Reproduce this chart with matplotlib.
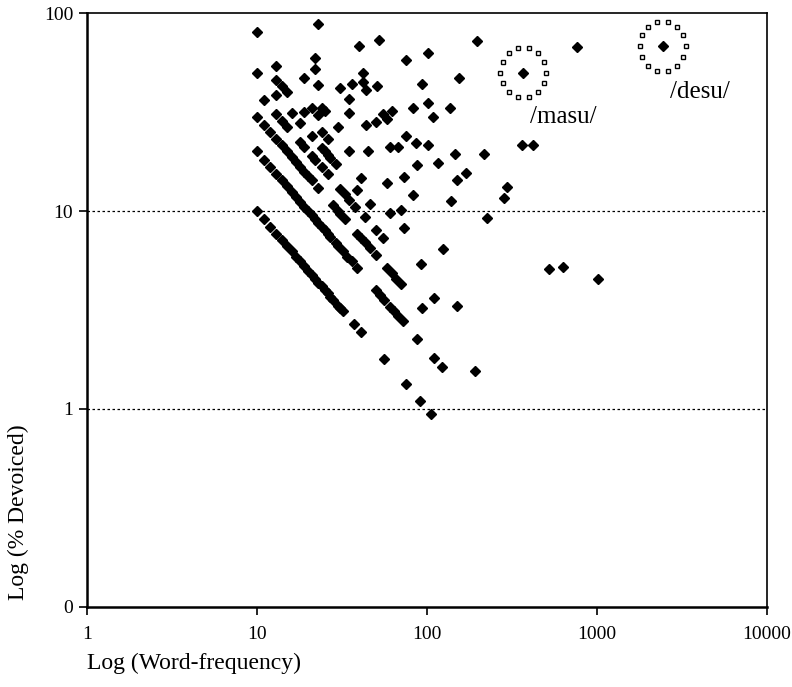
import numpy as np
import matplotlib
matplotlib.use("Agg")
import matplotlib.pyplot as plt
from matplotlib.transforms import ScaledTranslation

# word frequency (token count) and % devoiced
freq = [10, 11, 12, 13, 14, 15, 16, 17, 18, 19, 20, 21, 22, 23, 24, 25, 26, 27, 28, 30, 31, 32, 37, 41, 56, 75, 91, 106,
        10, 11, 12, 13, 14, 15, 16, 17, 18, 19, 20, 21, 22, 23, 24, 25, 26, 27, 29, 30, 32, 34, 36, 39, 50, 53, 56, 61, 64, 68, 72, 88, 110, 123,
        10, 11, 12, 13, 14, 15, 16, 17, 18, 19, 20, 21, 23, 28, 30, 31, 33, 39, 41, 43, 46, 50, 58, 62, 66, 70, 93, 193,
        11, 13, 14, 15, 18, 19, 21, 22, 24, 26, 31, 33, 35, 38, 43, 50, 55, 110,
        13, 16, 18, 21, 24, 25, 26, 27, 29, 39, 46, 92, 150,
        10, 10, 23, 40, 13, 22, 22, 19, 13, 14, 15, 23, 31, 35, 36, 19, 21, 24, 23, 25, 35, 30, 24, 26, 35, 45, 41, 61, 73, 125,
        52, 42, 42, 44, 51, 44, 50, 58,
        196, 102, 75, 155, 93, 101, 83, 108, 137, 55, 62, 75, 86, 102, 61, 68, 147, 218, 365, 419, 88, 117, 151, 169, 58, 73,
        83, 139, 298, 286, 70, 227, 520, 629, 1010, 760]
pct = [10.0, 9.09, 8.33, 7.69, 7.14, 6.67, 6.25, 5.88, 5.56, 5.26, 5.0, 4.76, 4.55, 4.35, 4.17, 4.0, 3.85, 3.70, 3.57, 3.33, 3.23, 3.13, 2.70, 2.44, 1.79, 1.33, 1.10, 0.94,
       20.0, 18.18, 16.67, 15.38, 14.29, 13.33, 12.5, 11.76, 11.11, 10.53, 10.0, 9.52, 9.09, 8.70, 8.33, 8.0, 7.69, 7.41, 6.90, 6.67, 6.25, 5.88, 5.56, 5.13, 4.0, 3.77, 3.57, 3.28, 3.13, 2.94, 2.78, 2.27, 1.82, 1.63,
       30.0, 27.27, 25.0, 23.08, 21.43, 20.0, 18.75, 17.65, 16.67, 15.79, 15.0, 14.29, 13.04, 10.71, 10.0, 9.68, 9.09, 7.69, 7.32, 6.98, 6.52, 6.0, 5.17, 4.84, 4.55, 4.29, 3.23, 1.55,
       36.36, 30.77, 28.57, 26.67, 22.22, 21.05, 19.05, 18.18, 16.67, 15.38, 12.90, 12.12, 11.43, 10.53, 9.30, 8.0, 7.27, 3.64,
       38.46, 31.25, 27.78, 23.81, 20.83, 20.0, 19.23, 18.52, 17.24, 12.82, 10.87, 5.43, 3.33,
       80, 50, 88, 68, 54, 59, 52, 47, 46, 43, 40, 43.5, 42, 37, 44, 31.6, 33.3, 33.3, 30.4, 32, 31.4, 26.7, 25, 23.1, 20, 20, 14.6, 9.8, 8.2, 6.4,
       73, 50, 45, 41, 43, 27.3, 28, 29.3,
       72, 63, 58, 47, 44, 35, 33, 30, 33, 31, 32, 24, 22, 21.5, 21, 21, 19.5, 19.5, 21.5, 21.5, 17, 17.4, 14.3, 15.5, 13.9, 14.8,
       12, 11.3, 13.2, 11.7, 10.1, 9.2, 5.1, 5.2, 4.55, 67]

# the two circled words
words = ["/masu/", "/desu/"]
word_freq = [370, 2440]
word_pct = [50, 68]

plt.rcParams['font.family'] = ['Liberation Serif', 'DejaVu Serif']

fig = plt.figure(figsize=(7.92, 6.87), dpi=100)
ax = fig.add_axes([0.110, 0.1165, 0.858, 0.8645])

ax.plot(freq, pct, linestyle='none', marker='D', ms=5.3, color='black')
ax.plot(word_freq, word_pct, linestyle='none', marker='D', ms=5.3, color='black')

# dotted rings of little open squares round the two words
for i in range(len(words)):
    for ang in np.linspace(0, 2 * np.pi, 15)[:-1]:
        off = ScaledTranslation(0.23 * np.cos(ang), 0.25 * np.sin(ang), fig.dpi_scale_trans)
        ax.plot(word_freq[i], word_pct[i], marker='s', ms=3.2, mfc='white', mec='black', mew=1.0,
                transform=ax.transData + off)
ax.annotate(words[0], (word_freq[0], word_pct[0]), xytext=(5, -24), textcoords='offset points',
            fontsize=18, va='top')
ax.annotate(words[1], (word_freq[1], word_pct[1]), xytext=(5, -25), textcoords='offset points',
            fontsize=18, va='top')

ax.set_xscale('log')
ax.set_yscale('log')
ax.set_xlim(1, 10000)
ax.set_ylim(0.1, 100)
ax.set_xticks([1, 10, 100, 1000, 10000])
ax.set_xticklabels(['1', '10', '100', '1000', '10000'])
ax.set_yticks([0.1, 1, 10, 100])
ax.set_yticklabels(['0', '1', '10', '100'])
ax.minorticks_off()
ax.tick_params(axis='both', labelsize=14, direction='out', length=6, width=1.2, color='black')
ax.tick_params(axis='x', pad=8)
ax.tick_params(axis='y', pad=4)

for y in [1, 10]:
    ax.axhline(y, color='black', linestyle=(0, (2, 2)), linewidth=0.9)

for s in ax.spines.values():
    s.set_linewidth(1.2)
ax.spines['left'].set_linewidth(1.8)
ax.spines['bottom'].set_linewidth(1.8)

ax.set_xlabel('Log (Word-frequency)', fontsize=17, loc='left', labelpad=7)
ax.set_ylabel('Log (% Devoiced)', fontsize=17, loc='bottom')
ax.yaxis.set_label_coords(-0.086, 0.012)

fig.savefig('out.png', dpi=100)
